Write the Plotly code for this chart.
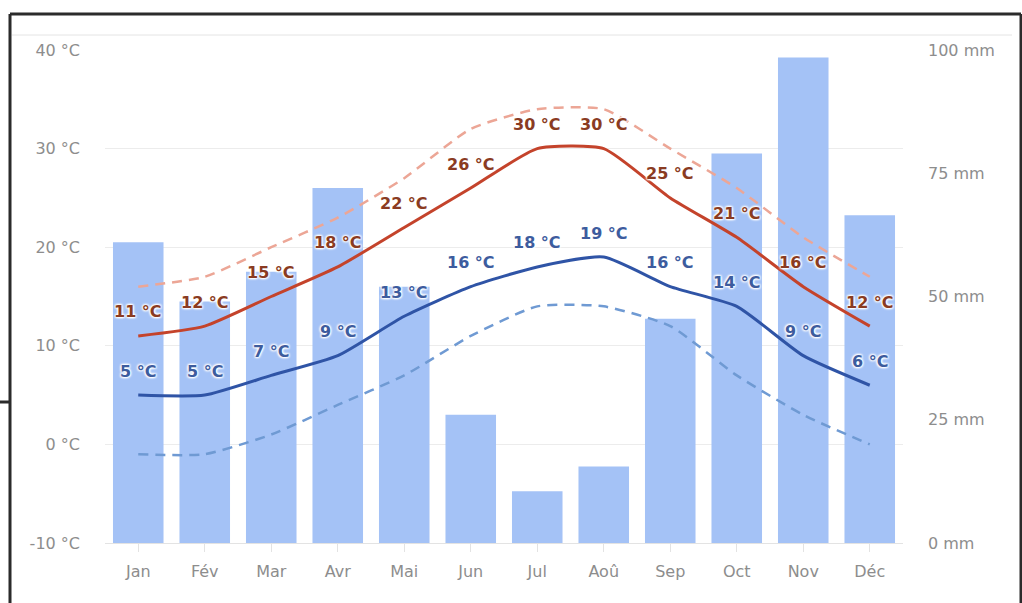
import plotly.graph_objects as go

months = ["Jan", "Fév", "Mar", "Avr", "Mai", "Jun", "Jul", "Aoû", "Sep", "Oct", "Nov", "Déc"]
precip_mm = [61, 49, 55, 72, 52, 26, 10.5, 15.5, 45.5, 79, 98.5, 66.5]
tmax = [11, 12, 15, 18, 22, 26, 30, 30, 25, 21, 16, 12]
tmin = [5, 5, 7, 9, 13, 16, 18, 19, 16, 14, 9, 6]
tmax_high = [16, 17, 20, 23, 27, 32, 34, 34, 30, 26, 21, 17]
tmin_low = [-1, -1, 1, 4, 7, 11, 14, 14, 12, 7, 3, 0]

temp_ticks = [-10, 0, 10, 20, 30, 40]
temp_ticktext = ["-10 °C", "0 °C", "10 °C", "20 °C", "30 °C", "40 °C"]
mm_ticks = [0, 25, 50, 75, 100]
mm_ticktext = ["0 mm", "25 mm", "50 mm", "75 mm", "100 mm"]

W, H = 1022, 603
ML, MR, MT, MB = 105, 119, 50, 60
PW, PH = W - ML - MR, H - MT - MB

FONT = "DejaVu Sans"
TICK_COLOR = "#8d8d8d"
RED = "#c4432b"
BLUE = "#2f54a6"
RED_D = "#eca696"
BLUE_D = "#6f9ad3"
BAR = "#a4c2f6"

fig = go.Figure()
fig.add_trace(go.Bar(x=months, y=precip_mm, marker=dict(color=BAR, line=dict(width=0)),
                     yaxis="y", hoverinfo="skip", showlegend=False))
for vals, col, dash, w in [(tmax_high, RED_D, "10px,7px", 2.5), (tmin_low, BLUE_D, "10px,7px", 2.5),
                           (tmax, RED, "solid", 3), (tmin, BLUE, "solid", 3)]:
    fig.add_trace(go.Scatter(x=months, y=vals, mode="lines", yaxis="y2",
                             line=dict(color=col, width=w, dash=dash, shape="spline", smoothing=0.55),
                             hoverinfo="skip", showlegend=False))

shadow = "1px 1px 2px #ffffff, -1px -1px 2px #ffffff, 1px -1px 2px #ffffff, -1px 1px 2px #ffffff"
annotations = []
for vals, col in [(tmax, "#8a3b22"), (tmin, "#3d5c9e")]:
    for m, v in zip(months, vals):
        annotations.append(dict(x=m, y=v, xref="x", yref="y2", text=f"{v} °C", showarrow=False,
                                yshift=24, font=dict(family=FONT, size=16, color=col, weight="bold",
                                                     shadow=shadow)))

def px(xp):
    return (xp - ML) / PW

def py(yp):
    return (H - MB - yp) / PH

frame = "#2b2b2b"
shapes = [
    dict(type="line", xref="paper", yref="paper", x0=px(10), x1=px(1021), y0=py(14), y1=py(14),
         line=dict(color=frame, width=3)),
    dict(type="line", xref="paper", yref="paper", x0=px(10), x1=px(10), y0=py(14), y1=py(605),
         line=dict(color=frame, width=3)),
    dict(type="line", xref="paper", yref="paper", x0=px(1021), x1=px(1021), y0=py(14), y1=py(605),
         line=dict(color=frame, width=3)),
    dict(type="line", xref="paper", yref="paper", x0=px(0), x1=px(10), y0=py(402), y1=py(402),
         line=dict(color=frame, width=3)),
    dict(type="line", xref="paper", yref="paper", x0=px(12), x1=px(1012), y0=py(35), y1=py(35),
         line=dict(color="#e4e4e4", width=1)),
]

fig.update_layout(
    width=W, height=H,
    margin=dict(l=ML, r=MR, t=MT, b=MB, autoexpand=False),
    paper_bgcolor="white", plot_bgcolor="white",
    bargap=0.24,
    font=dict(family=FONT, size=16, color=TICK_COLOR),
    xaxis=dict(type="category", showgrid=False, showline=True, linecolor="#e3e3e3", linewidth=1,
               ticks="outside", ticklen=8, tickcolor="#e3e3e3", ticklabelstandoff=6,
               tickfont=dict(family=FONT, size=16, color=TICK_COLOR), fixedrange=True),
    yaxis=dict(side="right", range=[0, 100], tickvals=mm_ticks, ticktext=mm_ticktext,
               showgrid=False, zeroline=False, ticklabelstandoff=24,
               tickfont=dict(family=FONT, size=16, color=TICK_COLOR)),
    yaxis2=dict(side="left", overlaying="y", range=[-10, 40], tickvals=temp_ticks,
                ticktext=temp_ticktext, showgrid=True, gridcolor="#ececec", gridwidth=1,
                zeroline=False, ticklabelstandoff=24,
                tickfont=dict(family=FONT, size=16, color=TICK_COLOR)),
    annotations=annotations,
    shapes=shapes,
)

fig.write_html("out.html")
